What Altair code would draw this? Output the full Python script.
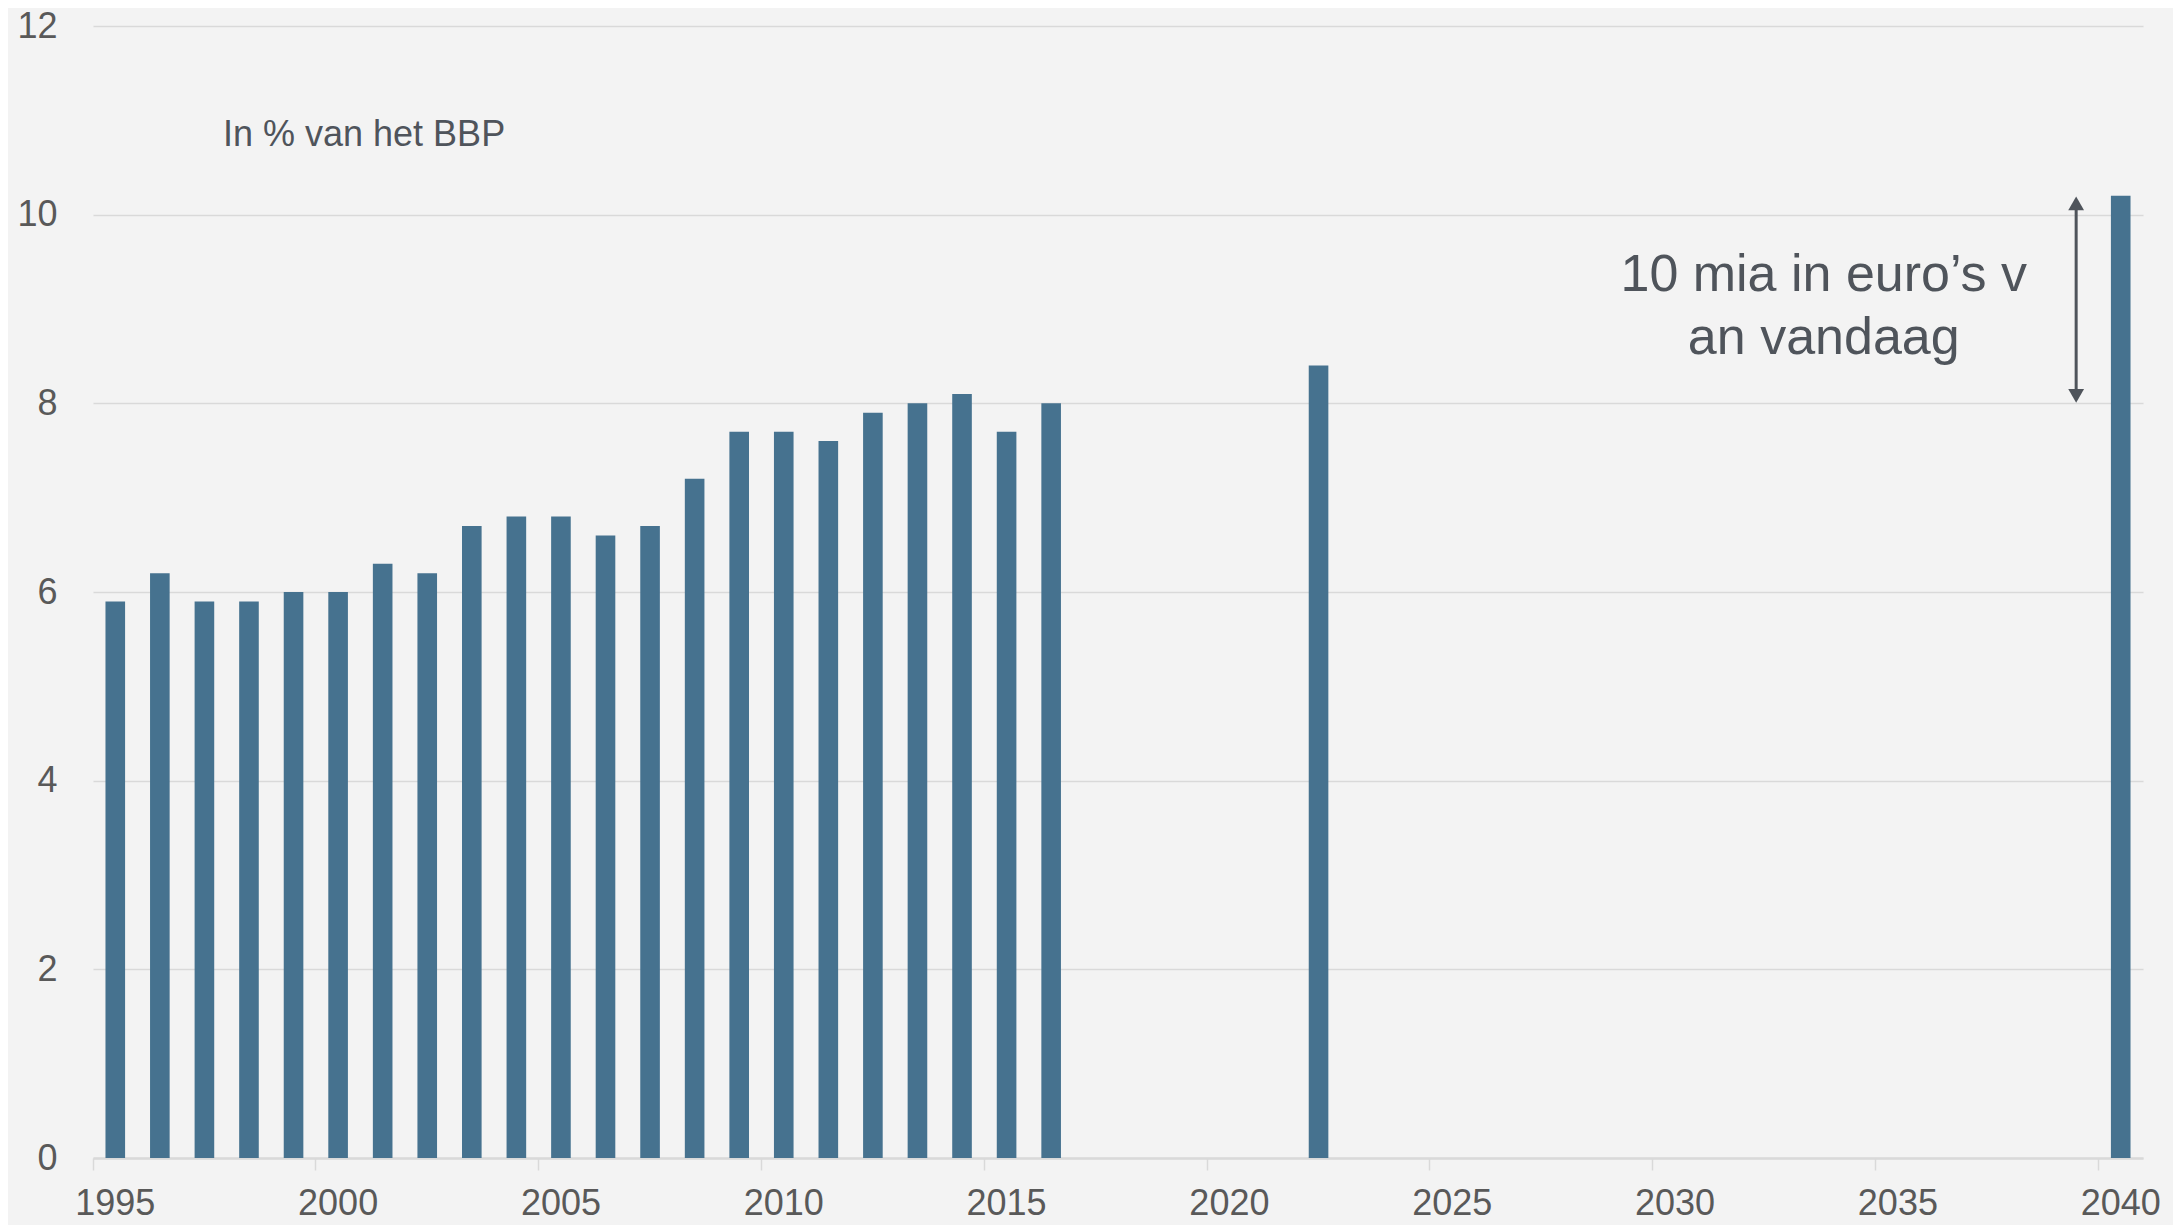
import altair as alt
import pandas as pd

# ---- data ----
years = [1995, 1996, 1997, 1998, 1999, 2000, 2001, 2002, 2003, 2004, 2005,
         2006, 2007, 2008, 2009, 2010, 2011, 2012, 2013, 2014, 2015, 2016,
         2022, 2040]
values = [5.9, 6.2, 5.9, 5.9, 6.0, 6.0, 6.3, 6.2, 6.7, 6.8, 6.8,
          6.6, 6.7, 7.2, 7.7, 7.7, 7.6, 7.9, 8.0, 8.1, 7.7, 8.0,
          8.4, 10.2]
all_years = list(range(1995, 2041))
label_years = [1995, 2000, 2005, 2010, 2015, 2020, 2025, 2030, 2035, 2040]
y_ticks = [0, 2, 4, 6, 8, 10, 12]

unit_label = "In % van het BBP"
annot_lines = "10 mia in euro\u2019s v\nan vandaag"
arrow_year = 2039
arrow_from = 8.0
arrow_to = 10.2

BAR = "#46728f"
TXT = "#595959"
DARK = "#4f545b"
GRID = "#d9d9d9"
FONT = "Liberation Sans"

df = pd.DataFrame({"year": years, "value": values})

xscale = alt.Scale(domain=all_years, paddingInner=0, paddingOuter=0)
yscale = alt.Scale(domain=[0, 12], nice=False)

bars = alt.Chart(df).mark_bar(width=alt.RelativeBandSize(0.44), color=BAR).encode(
    x=alt.X("year:O", scale=xscale, title=None,
            axis=alt.Axis(values=label_years, bandPosition=0, labelAngle=0,
                          tickSize=12, tickColor=GRID, tickWidth=1.5,
                          domainColor=GRID, domainWidth=2.5, grid=False,
                          labelFontSize=36, labelColor=TXT, labelFont=FONT,
                          labelPadding=16)),
    y=alt.Y("value:Q", scale=yscale, title=None,
            axis=alt.Axis(values=y_ticks, format="d", domain=False, ticks=False,
                          labelPadding=36, gridColor=GRID, gridWidth=1.5,
                          labelFontSize=36, labelColor=TXT, labelFont=FONT)),
)

lab_df = pd.DataFrame({"year": [1998], "value": [10.73], "t": [unit_label]})
lab = alt.Chart(lab_df).mark_text(align="left", baseline="alphabetic", dx=-26,
                                  fontSize=36, font=FONT, color=DARK).encode(
    x=alt.X("year:O", scale=xscale), y=alt.Y("value:Q", scale=yscale), text="t:N")

ann_df = pd.DataFrame({"year": [2033], "value": [9.195], "t": [annot_lines]})
ann = alt.Chart(ann_df).mark_text(align="center", baseline="alphabetic", dx=15,
                                  fontSize=52, font=FONT, color=DARK,
                                  lineBreak="\n", lineHeight=63).encode(
    x=alt.X("year:O", scale=xscale), y=alt.Y("value:Q", scale=yscale), text="t:N")

arr_df = pd.DataFrame({"year": [arrow_year], "y1": [arrow_from + 0.1], "y2": [arrow_to - 0.1]})
rule = alt.Chart(arr_df).mark_rule(color=DARK, strokeWidth=3).encode(
    x=alt.X("year:O", scale=xscale), y=alt.Y("y1:Q", scale=yscale), y2="y2:Q")

head_df = pd.DataFrame({"year": [arrow_year, arrow_year],
                        "value": [arrow_to - 0.08, arrow_from + 0.08],
                        "shape": ["triangle-up", "triangle-down"]})
heads = alt.Chart(head_df).mark_point(filled=True, color=DARK, size=250, opacity=1).encode(
    x=alt.X("year:O", scale=xscale), y=alt.Y("value:Q", scale=yscale),
    shape=alt.Shape("shape:N", scale=None, legend=None))

chart = alt.layer(bars, lab, ann, rule, heads).properties(
    width=2050, height=1132,
    autosize=alt.AutoSizeParams(type="none"),
    padding={"left": 85, "top": 18, "right": 30, "bottom": 80},
    background="#f3f3f3",
).configure_view(stroke=None)

chart.save("out.html", embed_options={"renderer": "svg", "actions": False})
